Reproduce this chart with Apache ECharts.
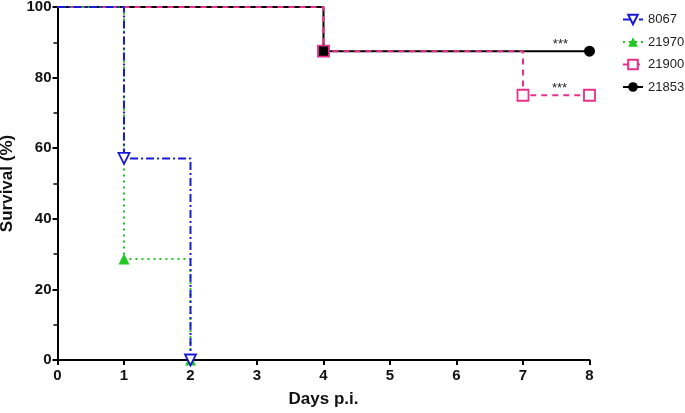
<!DOCTYPE html>
<html><head><meta charset="utf-8">
<script src="https://cdn.jsdelivr.net/npm/echarts@6/dist/echarts.min.js"></script>
<style>html,body{margin:0;padding:0;background:#fff}#c{width:685px;height:413px}</style>
</head><body><div id="c"></div>
<script>
const xTicks = [0,1,2,3,4,5,6,7,8];
const yTicks = [0,20,40,60,80,100];
const names = ['8067','21970','21900','21853'];
const days8067 = [0,1,2],    surv8067 = [100,57.1,0];
const days21970 = [0,1,2],   surv21970 = [100,28.6,0];
const days21900 = [0,4,7,8], surv21900 = [100,87.5,75,75];
const days21853 = [0,4,8],   surv21853 = [100,87.5,87.5];
const sigLabel = '***';

const chart = echarts.init(document.getElementById('c'), null, {renderer:'canvas'});
const font = 'Liberation Sans, Arial, sans-serif';

function mk(days, surv, opts) {
  return days.map((d,i) => {
    const o = {value:[d, surv[i]]};
    if (i === 0) o.symbol = 'none';
    if (opts && opts.last && i === days.length-1) {
      o.label = {show:true, formatter: sigLabel, position:'left', offset:[-11,-7], color:'#222', fontSize:13, fontFamily:font};
    }
    return o;
  });
}

const d21900 = mk(days21900, surv21900, {last:true});
d21900[1].itemStyle = {color:'#000', borderColor:'#e8308a'};
const d21853 = mk(days21853, surv21853, {last:true});
d21853[1].symbol = 'none';

chart.setOption({
  animation:false,
  grid:{left:57.5, right:95.5, top:7, bottom:53, containLabel:false, outerBoundsMode:'none'},
  legend:{
    orient:'vertical', left:617, top:8, padding:5, itemGap:9.5, itemWidth:20, itemHeight:12,
    textStyle:{fontFamily:font, fontSize:13, color:'#222', overflow:'none', width:60},
    data:names
  },
  xAxis:{
    type:'value', min:0, max:8, interval:1,
    name:'Days p.i.', nameLocation:'middle', nameGap:31,
    nameTextStyle:{fontFamily:font, fontSize:17, fontWeight:'bold', color:'#111'},
    axisLine:{lineStyle:{color:'#000', width:2}},
    axisTick:{show:true, length:5, lineStyle:{color:'#000', width:2}},
    axisLabel:{fontFamily:font, fontSize:15, fontWeight:'bold', color:'#111', margin:8,
      formatter: v => xTicks.includes(v) ? String(v) : ''},
    splitLine:{show:false}
  },
  yAxis:{
    type:'value', min:0, max:100, interval:20,
    name:'Survival (%)', nameLocation:'middle', nameGap:42, nameRotate:90,
    nameTextStyle:{fontFamily:font, fontSize:17, fontWeight:'bold', color:'#111'},
    axisLine:{show:true, lineStyle:{color:'#000', width:2}},
    axisTick:{show:true, length:5, lineStyle:{color:'#000', width:2}},
    minorTick:{show:true, splitNumber:2, length:4, lineStyle:{color:'#000', width:1.5}},
    axisLabel:{fontFamily:font, fontSize:15, fontWeight:'bold', color:'#111', margin:6,
      formatter: v => yTicks.includes(v) ? String(v) : ''},
    splitLine:{show:false}
  },
  series:[
    {name:'21853', type:'line', step:'end', data:d21853, z:2,
      symbol:'circle', symbolSize:11,
      lineStyle:{color:'#000', width:2, type:'solid'},
      itemStyle:{color:'#000'}},
    {name:'21900', type:'line', step:'end', data:d21900, z:3,
      symbol:'rect', symbolSize:11,
      lineStyle:{color:'#e8308a', width:2, type:[6,5]},
      itemStyle:{color:'#fff', borderColor:'#e8308a', borderWidth:1.8}},
    {name:'21970', type:'line', step:'end', data:mk(days21970, surv21970), z:4,
      symbol:'triangle', symbolSize:11,
      lineStyle:{color:'#22c822', width:2, type:[2,4]},
      itemStyle:{color:'#22c822'}},
    {name:'8067', type:'line', step:'end', data:mk(days8067, surv8067), z:5,
      symbol:'triangle', symbolRotate:180, symbolSize:11,
      lineStyle:{color:'#1a1ad6', width:2, type:[8,3,2,3]},
      itemStyle:{color:'#fff', borderColor:'#1a1ad6', borderWidth:1.8}}
  ]
});
</script></body></html>
